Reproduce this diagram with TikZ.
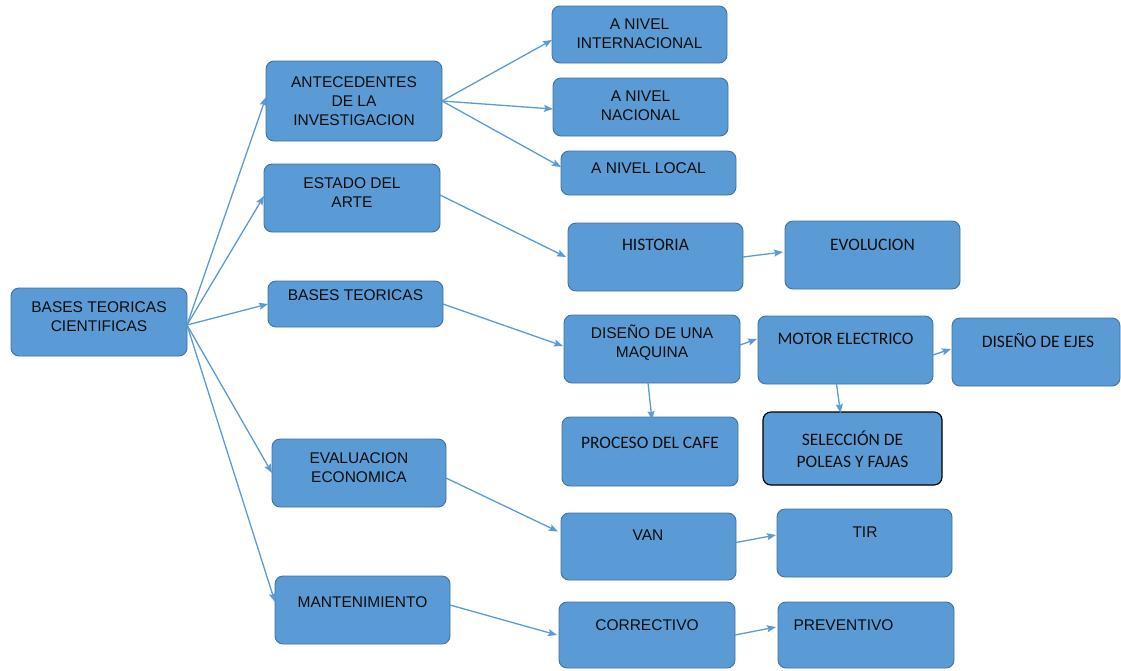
\documentclass[tikz,border=0pt]{standalone}
\usepackage{fontspec}
\setmainfont{Liberation Sans}
\newfontfamily\calib{Carlito}
\usetikzlibrary{arrows.meta}
\definecolor{boxfill}{HTML}{5B9BD5}
\definecolor{boxline}{HTML}{41719C}
\definecolor{arrowcol}{HTML}{5B9BD5}
\definecolor{txtcol}{HTML}{0D0D0D}
\tikzset{
  box/.style={draw=boxline, fill=boxfill, line width=0.9pt, rounded corners=8pt, inner sep=0pt, outer sep=0pt},
  blackbox/.style={box, draw=black, line width=1.2pt},
  arialtxt/.style={text=txtcol, align=center, inner sep=0pt, font=\fontsize{15.5}{19}\selectfont},
  calibtxt/.style={text=txtcol, align=center, inner sep=0pt, font=\calib\fontsize{17.5}{22}\selectfont},
  conn/.style={draw=arrowcol, line width=1.3pt, -{Stealth[length=9pt,width=7pt,inset=1.5pt]}}
}
% name, x1, y1, x2, y2, text x, text y, box style, text style+text
\newcommand\mybox[9]{%
  \node[#8, minimum width={(#4-#2)*1pt}, minimum height={(#5-#3)*1pt}] (#1) at ({(#2+#4)/2},{(#3+#5)/2}) {};
  \node[#9] (#1-t) at (#6,#7)}
\begin{document}
\begin{tikzpicture}[x=1pt,y=-1pt]
\useasboundingbox (0,0) rectangle (1121,670);

\mybox{root}{11}{288}{187}{356}{99}{316.5}{box}{arialtxt}{BASES TEORICAS\\CIENTIFICAS};
\mybox{ante}{266}{61}{442}{141}{354}{101}{box}{arialtxt}{ANTECEDENTES\\DE LA\\INVESTIGACION};
\mybox{estado}{264}{164}{440}{232}{352}{193}{box}{arialtxt}{ESTADO DEL\\ARTE};
\mybox{bases}{268}{281}{443}{327}{355.5}{295}{box}{arialtxt}{BASES TEORICAS};
\mybox{eval}{272}{439}{446}{507}{359}{468}{box}{arialtxt}{EVALUACION\\ECONOMICA};
\mybox{mant}{275}{576}{450}{644}{362.5}{602}{box}{arialtxt}{MANTENIMIENTO};

\mybox{inter}{552}{6}{727}{63}{639.5}{33.5}{box}{arialtxt}{A NIVEL\\INTERNACIONAL};
\mybox{nac}{553}{78}{728}{136}{640.5}{106}{box}{arialtxt}{A NIVEL\\NACIONAL};
\mybox{local}{561}{151}{736}{195}{648.5}{168}{box}{arialtxt}{A NIVEL LOCAL};

\mybox{hist}{568}{223}{743}{291}{655.5}{245}{box}{calibtxt}{HISTORIA};
\mybox{evol}{785}{221}{960}{289}{872.5}{245}{box}{calibtxt}{EVOLUCION};

\mybox{dis}{564}{315}{740}{383}{652}{342.5}{box}{arialtxt}{DISEÑO DE UNA\\MAQUINA};
\mybox{motor}{758}{316}{933}{384}{845.5}{339}{box}{calibtxt}{MOTOR ELECTRICO};
\mybox{ejes}{952}{318}{1120}{386}{1038}{341}{box}{calibtxt}{DISEÑO DE EJES};
\mybox{proc}{562}{417}{738}{486}{650}{443}{box}{calibtxt}{PROCESO DEL CAFE};
\mybox{sel}{763}{412}{942}{485}{852.5}{449}{blackbox}{calibtxt}{SELECCIÓN DE\\POLEAS Y FAJAS};

\mybox{van}{561}{513}{736}{580}{648}{535}{box}{arialtxt}{VAN};
\mybox{tir}{777}{509}{952}{577}{865}{532}{box}{arialtxt}{TIR};
\mybox{corr}{559}{602}{735}{668}{647}{625}{box}{arialtxt}{CORRECTIVO};
\mybox{prev}{778}{602}{954}{668}{843.5}{625}{box}{arialtxt}{PREVENTIVO};

% connectors from root
\draw[conn] ([yshift=-3pt]root.east) -- ([yshift=4pt]ante.west);
\draw[conn] ([yshift=-3pt]root.east) -- ([yshift=2pt]estado.west);
\draw[conn] ([yshift=-3pt]root.east) -- (bases.west);
\draw[conn] ([yshift=-3pt]root.east) -- (eval.west);
\draw[conn] ([yshift=-3pt]root.east) -- ([yshift=8pt]mant.west);

\draw[conn] (ante.east) -- ([yshift=-5.5pt]inter.west);
\draw[conn] (ante.east) -- ([yshift=-2pt]nac.west);
\draw[conn] (ante.east) -- ([yshift=6pt]local.west);

\draw[conn] ([yshift=3pt]estado.east) -- ([xshift=-2pt]hist.west);
\draw[conn] (hist.east) -- ([xshift=-2pt,yshift=3pt]evol.west);

\draw[conn] (bases.east) -- ([xshift=-1pt,yshift=3pt]dis.west);
\draw[conn] ([yshift=4pt]dis.east) -- ([xshift=-1pt,yshift=11pt]motor.west);
\draw[conn] ([yshift=-5pt]motor.east) -- ([xshift=-1pt,yshift=3pt]ejes.west);
\draw[conn] ([xshift=-4pt]dis.south) -- ([xshift=2pt,yshift=-3pt]proc.north);
\draw[conn] ([xshift=-9pt]motor.south) -- ([xshift=-12pt,yshift=-1pt]sel.north);

\draw[conn] ([yshift=-5pt]eval.east) -- ([xshift=-3pt,yshift=15pt]van.west);
\draw[conn] ([yshift=4pt]van.east) -- ([xshift=-1pt,yshift=8pt]tir.west);
\draw[conn] ([yshift=5pt]mant.east) -- ([xshift=-2pt]corr.west);
\draw[conn] (corr.east) -- ([xshift=-2pt,yshift=8pt]prev.west);
\end{tikzpicture}
\end{document}
